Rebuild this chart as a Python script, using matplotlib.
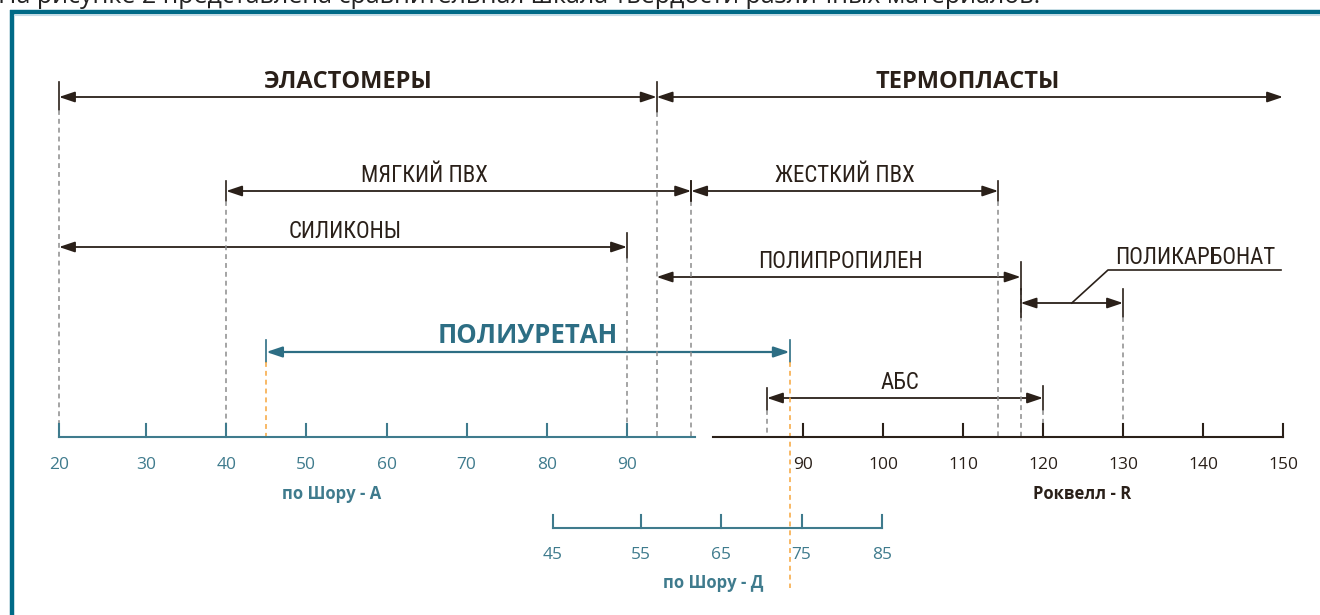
import matplotlib
matplotlib.use("Agg")
import numpy as np
import matplotlib.pyplot as plt
from matplotlib.patches import FancyArrowPatch
from matplotlib import font_manager

# ---------------- data ----------------
materials = ['ЭЛАСТОМЕРЫ', 'ТЕРМОПЛАСТЫ', 'МЯГКИЙ ПВХ', 'ЖЕСТКИЙ ПВХ', 'СИЛИКОНЫ',
             'ПОЛИПРОПИЛЕН', 'ПОЛИКАРБОНАТ', 'ПОЛИУРЕТАН', 'АБС']
start_scale = ['A', 'A', 'A', 'A', 'A', 'A', 'R', 'A', 'R']
start_value = [20, 93.7, 40, 98, 20, 93.7, 117.2, 45, 85.5]
end_scale = ['A', 'R', 'A', 'R', 'A', 'R', 'R', 'D', 'R']
end_value = [93.7, 150, 98, 114.4, 90, 117.2, 130, 73.5, 120]

shore_a_ticks = [20, 30, 40, 50, 60, 70, 80, 90]
rockwell_ticks = [90, 100, 110, 120, 130, 140, 150]
shore_d_ticks = [45, 55, 65, 75, 85]

shore_a_title = 'по Шору - А'
rockwell_title = 'Роквелл - R'
shore_d_title = 'по Шору - Д'
caption = 'На рисунке 2 представлена сравнительная шкала твердости различных материалов.'

# ---------------- layout / styles ----------------
W, H = 1320, 615
DARK = '#2a2019'
TEAL = '#3f7b8d'
PU = '#2d6e84'
GRAY = '#8c8c8c'
ORANGE = '#f6a53c'
FRAME = '#006a87'

names = {f.name for f in font_manager.fontManager.ttflist}
def pick(*c):
    for n in c:
        if n in names:
            return n
    return 'DejaVu Sans'
NARROW = pick('Liberation Sans Narrow', 'Roboto Condensed', 'Open Sans')
REG = pick('Open Sans', 'Noto Sans', 'DejaVu Sans')

# pixel anchors of the printed scales (the printed scales are not perfectly uniform)
def xa(v):  # Shore A -> pixel
    return float(np.interp(v, [20, 30, 90], [59, 146, 627], left=None, right=None)) if v <= 90 \
        else 627 + (v - 90) * 8.017
def xr(v):  # Rockwell R -> pixel
    return 803 + (v - 90) * 8.0
def xd(v):  # Shore D -> pixel
    return float(np.interp(v, [45, 55, 85], [553, 641, 882]))
SC = {'A': xa, 'R': xr, 'D': xd}

AXIS_Y = 437
D_Y = 528
row_y = [97, 97, 191, 191, 247, 277, 303, 352, 398]
label_dx = [-10, -2, -34, 0, 2, 2, 0, 0, -5]
colors = [DARK] * 7 + [PU, DARK]
fonts = [(REG, 'bold', 17), (REG, 'bold', 17), (NARROW, 'normal', 16.5), (NARROW, 'normal', 16.5),
         (NARROW, 'normal', 16.5), (NARROW, 'normal', 16.5), (NARROW, 'normal', 16.5),
         (REG, 'bold', 18.5), (NARROW, 'normal', 16.5)]
bar_l = [(15, 13), (0, 0), (10, 10), (10, 10), (0, 0), (0, 0), (14, 14), (12, 10), (10, 12)]
bar_r = [(15, 15), (0, 0), (10, 10), (10, 10), (14, 11), (15, 13), (14, 14), (12, 10), (12, 12)]
drop_l = [True, False, True, False, False, False, False, True, True]
drop_r = [True, False, True, True, True, True, True, True, True]

fig = plt.figure(figsize=(W / 100, H / 100), dpi=100)
ax = fig.add_axes([0, 0, 1, 1])
ax.set_xlim(0, W)
ax.set_ylim(H, 0)
ax.axis('off')

# frame and caption
ax.plot([10, W], [11.5, 11.5], color=FRAME, lw=3.2, solid_capstyle='butt')
ax.plot([12, 12], [10, H], color=FRAME, lw=3.2, solid_capstyle='butt')
ax.plot([14, W], [14.6, 14.6], color='#c4dbe7', lw=0.8)
ax.text(-2, 3, caption, fontsize=18, family=REG, color='#222222', va='baseline', ha='left')

def vline(x, y0, y1, color, dashed=False, lw=1.1):
    if dashed:
        ax.plot([x, x], [y0, y1], color=color, lw=lw, dashes=(3.2, 2.6))
    else:
        ax.plot([x, x], [y0, y1], color=color, lw=lw)

# material ranges
for i, name in enumerate(materials):
    x0 = SC[start_scale[i]](start_value[i])
    x1 = SC[end_scale[i]](end_value[i])
    y = row_y[i]
    c = colors[i]
    lw = 1.6 if i == 7 else 1.3
    arr = FancyArrowPatch((x0, y), (x1, y),
                          arrowstyle='<|-|>,head_length=0.95,head_width=0.32',
                          mutation_scale=10, color=c, lw=lw, shrinkA=0, shrinkB=0)
    ax.add_patch(arr)
    dcol = ORANGE if i == 7 else GRAY
    for x, bar, drop, isright in ((x0, bar_l[i], drop_l[i], False), (x1, bar_r[i], drop_r[i], True)):
        if bar[0] or bar[1]:
            vline(x, y - bar[0], y + bar[1], c, lw=1.2)
        if drop:
            bottom = 588 if (i == 7 and isright) else AXIS_Y
            vline(x, y + bar[1], bottom, dcol, dashed=True, lw=1.1)
    fam, wt, fs = fonts[i]
    if name == 'ПОЛИКАРБОНАТ':
        xm = (x0 + x1) / 2
        ax.plot([xm, 1108, 1281], [y, 270, 270], color=DARK, lw=1.2)
        ax.text(1195, 264, name, fontsize=fs, family=fam, weight=wt, color=c,
                ha='center', va='baseline')
    else:
        ax.text((x0 + x1) / 2 + label_dx[i], y - 9, name, fontsize=fs, family=fam,
                weight=wt, color=c, ha='center', va='baseline')

# Shore A scale
ax.plot([xa(20), xa(98.5)], [AXIS_Y, AXIS_Y], color=TEAL, lw=1.5)
for v in shore_a_ticks:
    ax.plot([xa(v), xa(v)], [AXIS_Y - 13, AXIS_Y], color=TEAL, lw=1.5)
    ax.text(xa(v), 469, str(v), fontsize=12.5, family=REG, color=TEAL, ha='center', va='baseline')
ax.text(332, 499, shore_a_title, fontsize=12, family=REG, weight='bold', color=TEAL,
        ha='center', va='baseline')

# Rockwell scale
ax.plot([xr(78.8), xr(150)], [AXIS_Y, AXIS_Y], color=DARK, lw=1.5)
for v in rockwell_ticks:
    ax.plot([xr(v), xr(v)], [AXIS_Y - 13, AXIS_Y], color=DARK, lw=1.5)
    ax.text(xr(v), 469, str(v), fontsize=12.5, family=REG, color=DARK, ha='center', va='baseline')
ax.text(1082, 499, rockwell_title, fontsize=12, family=REG, weight='bold', color=DARK,
        ha='center', va='baseline')

# Shore D scale
ax.plot([xd(45), xd(85)], [D_Y, D_Y], color=TEAL, lw=1.5)
for v in shore_d_ticks:
    ax.plot([xd(v), xd(v)], [D_Y - 13, D_Y], color=TEAL, lw=1.5)
    ax.text(xd(v), 559, str(v), fontsize=12.5, family=REG, color=TEAL, ha='center', va='baseline')
ax.text(713, 588, shore_d_title, fontsize=12, family=REG, weight='bold', color=TEAL,
        ha='center', va='baseline')

fig.savefig('out.png', dpi=100)
